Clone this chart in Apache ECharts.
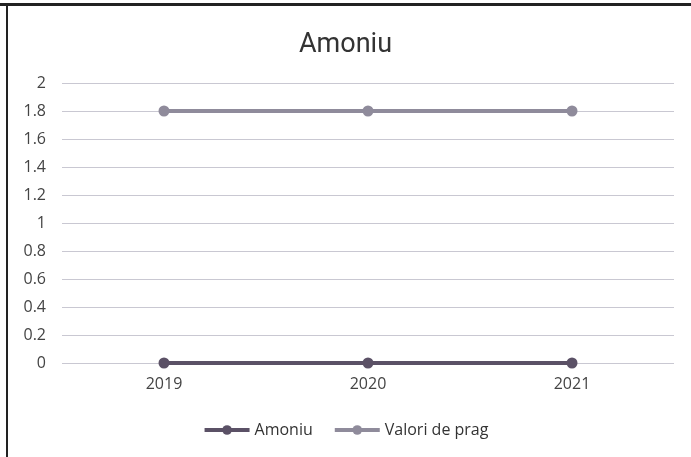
<!DOCTYPE html>
<html>
<head>
<meta charset="utf-8">
<script src="https://cdn.jsdelivr.net/npm/echarts@6/dist/echarts.min.js"></script>
<style>
html,body{margin:0;padding:0;background:#fff}
#chart{width:691px;height:457px}
</style>
</head>
<body>
<div id="chart"></div>
<script>
var years = ['2019', '2020', '2021'];
var amoniu = [0, 0, 0];
var valoriPrag = [1.8, 1.8, 1.8];
var yTicks = ['0', '0.2', '0.4', '0.6', '0.8', '1', '1.2', '1.4', '1.6', '1.8', '2'];

var chart = echarts.init(document.getElementById('chart'));

var option = {
    backgroundColor: '#fff',
    animation: false,
    title: {
        text: 'Amoniu',
        left: 'center',
        top: 27,
        textStyle: {
            color: '#333',
            fontSize: 27,
            fontWeight: 'normal',
            fontFamily: 'Roboto, sans-serif'
        }
    },
    graphic: [
        { type: 'rect', shape: { x: 0, y: 3, width: 691, height: 3 }, style: { fill: '#222' } },
        { type: 'rect', shape: { x: 6, y: 3, width: 2, height: 454 }, style: { fill: '#222' } }
    ],
    legend: {
        bottom: 14,
        left: 'center',
        itemWidth: 45,
        itemHeight: 12,
        itemGap: 20,
        lineStyle: { width: 4 },
        textStyle: { color: '#333', fontSize: 16, fontFamily: 'Open Sans, sans-serif' },
        data: ['Amoniu', 'Valori de prag']
    },
    grid: { left: 62, right: 17, top: 83, bottom: 94 },
    xAxis: {
        type: 'category',
        data: years,
        boundaryGap: true,
        axisLine: { show: false },
        axisTick: { show: false },
        axisLabel: { color: '#444', fontSize: 16, margin: 13, fontFamily: 'Open Sans, sans-serif' }
    },
    yAxis: {
        type: 'value',
        min: 0,
        max: 2,
        interval: 0.2,
        axisLine: { show: false },
        axisTick: { show: false },
        axisLabel: {
            color: '#444',
            fontSize: 16,
            margin: 16,
            fontFamily: 'Open Sans, sans-serif',
            formatter: function (v) { return yTicks[Math.round(v / 0.2)]; }
        },
        splitLine: { lineStyle: { color: '#c9c8d2', width: 1 } }
    },
    series: [
        {
            name: 'Amoniu',
            type: 'line',
            data: amoniu,
            symbol: 'circle',
            symbolSize: 11,
            lineStyle: { color: '#5b5166', width: 4 },
            itemStyle: { color: '#5b5166' }
        },
        {
            name: 'Valori de prag',
            type: 'line',
            data: valoriPrag,
            symbol: 'circle',
            symbolSize: 11,
            lineStyle: { color: '#8f8b9b', width: 4 },
            itemStyle: { color: '#8f8b9b' }
        }
    ]
};

chart.setOption(option);
</script>
</body>
</html>
